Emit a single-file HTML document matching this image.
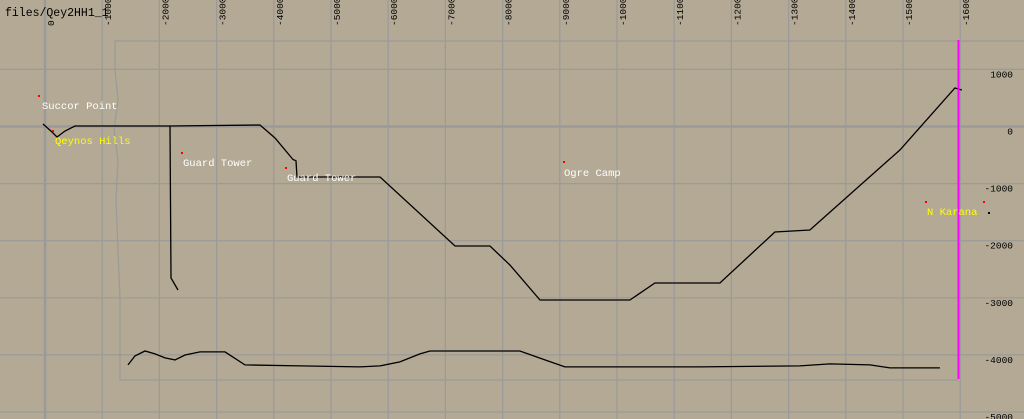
<!DOCTYPE html>
<html><head><meta charset="utf-8"><style>
body{margin:0;background:#b3a994;}
svg{display:block;font-family:"Liberation Mono","DejaVu Sans Mono",monospace;}
</style></head><body>
<svg id="map" width="1024" height="419" viewBox="0 0 1024 419">
<rect width="1024" height="419" fill="#b3a994"/>
<g id="grid"></g>
<g id="ticks"></g>
<path d="M120,380 L120,300 L118,250 L116,200 L118,160 L114,130 L118,100 L115,70 L115,41 L1024,41" fill="none" stroke="#9a9a9a" stroke-width="1.2"/>
<path d="M120,380 L958,380" fill="none" stroke="#9a9a9a" stroke-width="1.2"/>
<g id="lines"></g>
<line x1="958.5" y1="40" x2="958.5" y2="379" stroke="#ff00ff" stroke-width="2"/>
<text x="5" y="16" font-size="11.5" fill="#000">files/Qey2HH1_1</text>
<g font-size="10.5">
<rect x="38" y="95" width="2" height="2" fill="red"/>
<text x="42" y="109" fill="#fff">Succor Point</text>
<rect x="52" y="130" width="2" height="2" fill="red"/>
<text x="55" y="144" fill="#ffff00">Qeynos Hills</text>
<rect x="181" y="152" width="2" height="2" fill="red"/>
<text x="183" y="166" fill="#fff">Guard Tower</text>
<rect x="285" y="167" width="2" height="2" fill="red"/>
<text x="287" y="181" fill="#fff">Guard Tower</text>
<rect x="563" y="161" width="2" height="2" fill="red"/>
<text x="564" y="176" fill="#fff">Ogre Camp</text>
<rect x="925" y="201" width="2" height="2" fill="red"/>
<rect x="983" y="201" width="2" height="2" fill="red"/>
<rect x="988" y="212" width="2" height="2" fill="#000"/>
<text x="927" y="215" fill="#ffff00">N Karana</text>
</g>
</svg>
<script>
const xTicks=[0,-1000,-2000,-3000,-4000,-5000,-6000,-7000,-8000,-9000,-10000,-11000,-12000,-13000,-14000,-15000,-16000];
const yTicks=[1000,0,-1000,-2000,-3000,-4000,-5000];
const mainPath=[[35,44],[-122,-96],[-210,-184],[-350,-79],[-524,9],[-2185,9],[-3758,26],[-4021,-201],[-4336,-578],[-4388,-601],[-4406,-884],[-5856,-884],[-7167,-2092],[-7779,-2092],[-8128,-2425],[-8653,-3038],[-10226,-3038],[-10663,-2740],[-11799,-2740],[-12760,-1847],[-13372,-1812],[-14945,-411],[-15907,674],[-16029,639]];
const branchPath=[[-2185,9],[-2203,-2653],[-2325,-2863]];
const bottomPath=[[-1451,-4176],[-1573,-4018],[-1748,-3931],[-1923,-3983],[-2098,-4053],[-2272,-4088],[-2447,-4001],[-2709,-3948],[-3146,-3948],[-3496,-4176],[-4457,-4193],[-5506,-4211],[-5856,-4193],[-6205,-4123],[-6555,-3983],[-6730,-3931],[-8303,-3931],[-8740,-4088],[-9090,-4211],[-11449,-4211],[-13197,-4193],[-13722,-4158],[-14421,-4176],[-14771,-4228],[-15645,-4228]];
const NS="http://www.w3.org/2000/svg";
const sx=v=>45-v*0.0572, sy=v=>126.5-v*0.0571;
const grid=document.getElementById('grid'), ticks=document.getElementById('ticks'), lines=document.getElementById('lines');
xTicks.forEach(v=>{
  const x=sx(v);
  const l=document.createElementNS(NS,'line');
  
  
  l.setAttribute('x1',x);l.setAttribute('x2',x);l.setAttribute('y1',0);l.setAttribute('y2',419);
  l.setAttribute('stroke','#9a9a9a');l.setAttribute('stroke-width',v===0?2.5:1.2);
  grid.appendChild(l);
  const t=document.createElementNS(NS,'text');
  
  
  t.setAttribute('transform','translate('+(x+9)+',26) rotate(-90)');
  t.setAttribute('text-anchor','start');t.setAttribute('font-size','9.5');
  t.textContent=String(v).slice(0,5);
  ticks.appendChild(t);
});
yTicks.forEach(v=>{
  const y=sy(v);
  const l=document.createElementNS(NS,'line');
  
  
  l.setAttribute('x1',0);l.setAttribute('x2',1024);l.setAttribute('y1',y);l.setAttribute('y2',y);
  l.setAttribute('stroke','#9a9a9a');l.setAttribute('stroke-width',v===0?2.5:1.2);
  grid.appendChild(l);
  const t=document.createElementNS(NS,'text');
  
  
  t.setAttribute('x',1013);t.setAttribute('y',y+8);
  t.setAttribute('text-anchor','end');t.setAttribute('font-size','9.5');
  t.textContent=v;
  ticks.appendChild(t);
});
function draw(pts,name){
  const p=document.createElementNS(NS,'polyline');
  
  
  p.setAttribute('points',pts.map(q=>sx(q[0]).toFixed(1)+','+sy(q[1]).toFixed(1)).join(' '));
  p.setAttribute('fill','none');p.setAttribute('stroke','#000');p.setAttribute('stroke-width','1.3');
  lines.appendChild(p);
}
draw(mainPath,'main-road');
draw(branchPath,'branch-road');
draw(bottomPath,'southern-path');
</script>
</body></html>
